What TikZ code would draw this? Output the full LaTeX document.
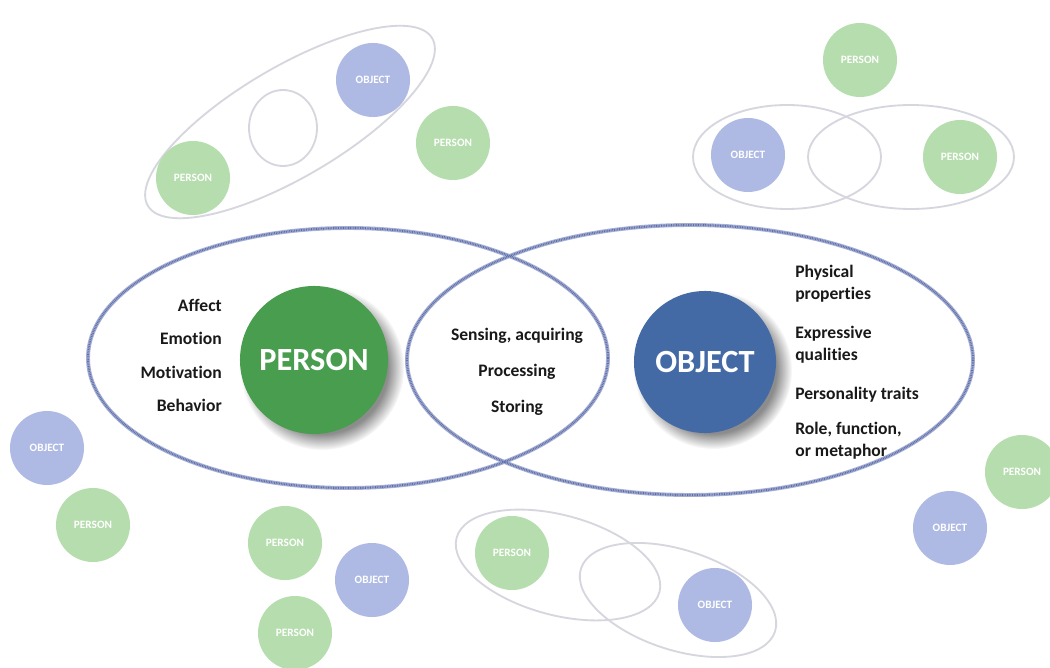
\documentclass[tikz,border=0pt]{standalone}
\usepackage{fontspec}
\setmainfont{Carlito}[Ligatures=NoCommon]
\usetikzlibrary{fadings}

\definecolor{pgreen}{RGB}{72,158,78}
\definecolor{pgreendark}{RGB}{42,116,50}
\definecolor{oblue}{RGB}{68,106,166}
\definecolor{obluedark}{RGB}{42,76,134}
\definecolor{palegreen}{RGB}{182,221,174}
\definecolor{paleblue}{RGB}{174,186,227}
\definecolor{ringblue}{RGB}{96,110,168}
\definecolor{ringpale}{RGB}{168,178,214}
\definecolor{ringgray}{RGB}{214,214,222}

\pgfdeclareradialshading{personball}{\pgfpointorigin}{color(0bp)=(pgreen); color(34bp)=(pgreen); color(50bp)=(pgreendark)}
\pgfdeclareradialshading{objectball}{\pgfpointorigin}{color(0bp)=(oblue); color(34bp)=(oblue); color(50bp)=(obluedark)}

\begin{document}
\begin{tikzpicture}[x=0.025cm,y=-0.025cm,
    every node/.style={inner sep=0pt},
    bubble/.style={circle,minimum size=1.85cm,text=white,font=\bfseries\fontsize{8}{9}\selectfont},
    pbubble/.style={bubble,fill=palegreen},
    obubble/.style={bubble,fill=paleblue},
    ball/.style={circle,minimum size=3.7cm,text=white,font=\bfseries\fontsize{23}{26}\selectfont},
    trait/.style={font=\bfseries\fontsize{12.5}{15.5}\selectfont,text=black!90},
    bigring/.style={line width=2.8pt,draw=ringpale},
    bigdots/.style={line width=1.5pt,draw=ringblue,dash pattern=on 0.6pt off 0.6pt},
    smallring/.style={line width=1.3pt,draw=ringgray}]

  \useasboundingbox (0,0) rectangle (1050,668);
  \fill[white] (0,0) rectangle (1050,668);

  % Pale pair rings around the loose bubbles
  \draw[smallring,rotate around={30.5:(290,122)}] (290,122) ellipse [x radius=165, y radius=55];
  \draw[smallring] (283,128) ellipse [x radius=34, y radius=38];
  \draw[smallring] (787,157) ellipse [x radius=94, y radius=52];
  \draw[smallring] (911,157) ellipse [x radius=103, y radius=52];
  \draw[smallring,rotate around={-15:(558,565)}] (558,565) ellipse [x radius=105, y radius=50];
  \draw[smallring,rotate around={-18:(678,600)}] (678,600) ellipse [x radius=102, y radius=50];

  % Loose bubbles
  \foreach \n/\x/\y in {p1/193/178,p2/453/143,p3/860/60,p4/960/157,p5/93/525,p6/285/543,p7/295/633,p8/512/553,p9/1022/472} {%
    \node[pbubble] (\n) at (\x,\y) {PERSON};
  }
  \foreach \n/\x/\y in {o1/373/80,o2/748/155,o3/47/448,o4/372/580,o5/715/605,o6/950/528} {%
    \node[obubble] (\n) at (\x,\y) {OBJECT};
  }

  % Main overlapping ellipses
  \draw[bigring] (348,358) ellipse [x radius=260, y radius=130];
  \draw[bigring] (690,360) ellipse [x radius=283, y radius=135];
  \draw[bigdots] (348,358) ellipse [x radius=260, y radius=130];
  \draw[bigdots] (690,360) ellipse [x radius=283, y radius=135];

  % Shadows under the two balls
  \fill[black,opacity=.45,path fading=circle with fuzzy edge 20 percent] (322,368) circle [radius=82];
  \fill[black,opacity=.45,path fading=circle with fuzzy edge 20 percent] (713,370) circle [radius=79];

  \node[ball,shading=personball] (person) at (314,360) {PERSON};
  \node[ball,shading=objectball,minimum size=3.55cm] (object) at (705,362) {OBJECT};

  % Person side
  \foreach \n/\y/\t in {affect/305/Affect,emotion/338/Emotion,motivation/372/Motivation,behavior/405/Behavior} {%
    \node[trait,anchor=east] (\n) at (222,\y) {\t};
  }

  % Shared part
  \foreach \n/\y/\t in {sensing/336/{Sensing, acquiring},processing/372/Processing,storing/408/Storing} {%
    \node[trait] (\n) at (517,\y) {\t};
  }

  % Object side
  \foreach \n/\y/\t in {physical/284/{Physical\\properties},expressive/345/{Expressive\\qualities},personality/395/{Personality traits},role/441/{Role, function,\\or metaphor}} {%
    \node[trait,anchor=west,align=left] (\n) at (795,\y) {\t};
  }

\end{tikzpicture}
\end{document}
